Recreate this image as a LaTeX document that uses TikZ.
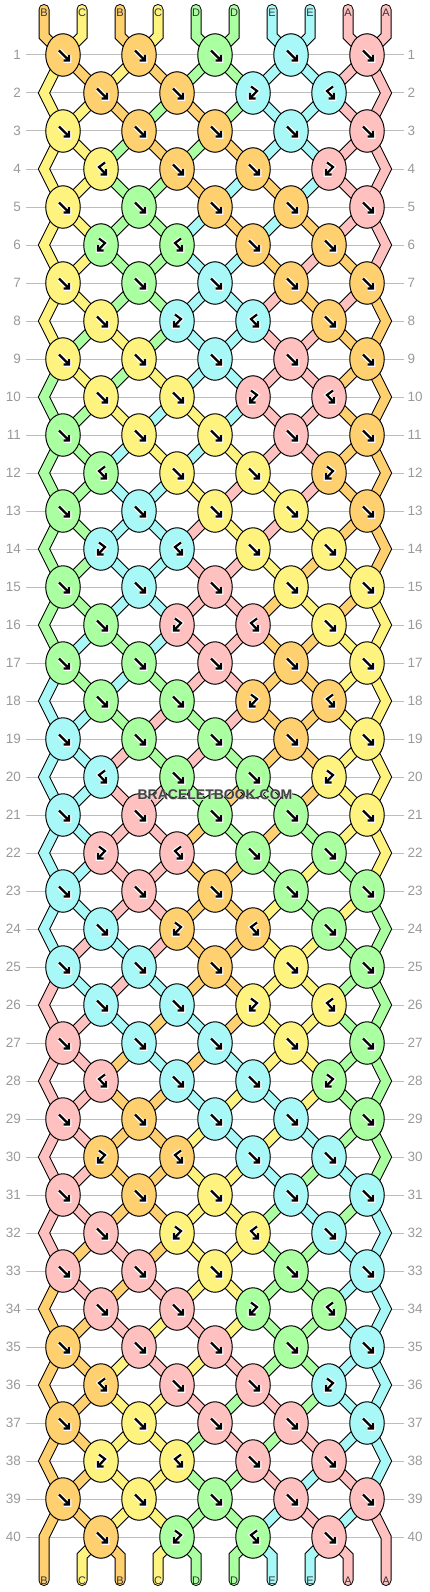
\documentclass[tikz,border=0pt]{standalone}
\usepackage{fontspec}
\setmainfont{Liberation Sans}
\usetikzlibrary{shapes.geometric}
\definecolor{colA}{HTML}{FFC0C0}
\definecolor{colB}{HTML}{FFD070}
\definecolor{colC}{HTML}{FFF380}
\definecolor{colD}{HTML}{AAFFA0}
\definecolor{colE}{HTML}{A8F8F8}
\definecolor{rowgray}{HTML}{BDBDBD}
\definecolor{labgray}{HTML}{999999}
\definecolor{markgray}{HTML}{444444}
\newcommand\bbSet[2]{\expandafter\xdef\csname #1\endcsname{#2}}
\newcommand\bbGet[1]{\csname #1\endcsname}
\newcommand\bbAppend[3]{\expandafter\xdef\csname bbpath#1\endcsname{\csname bbpath#1\endcsname-- (#2,#3)}}
\def\bbF{f}\def\bbFB{fb}
\newcommand\bbKnot[7]{%
  \edef\bbL{\bbGet{bbpos#3}}%
  \edef\bbR{\bbGet{bbpos#4}}%
  \bbAppend{\bbL}{#5}{#6}%
  \bbAppend{\bbR}{#5}{#6}%
  \edef\bbtmp{#7}%
  \bbSet{bbkt#1-#2}{\bbtmp}%
  \ifx\bbtmp\bbF
    \bbSet{bbkc#1-#2}{\bbGet{bbcol\bbL}}%
    \bbSet{bbpos#3}{\bbR}%
    \bbSet{bbpos#4}{\bbL}%
  \else\ifx\bbtmp\bbFB
    \bbSet{bbkc#1-#2}{\bbGet{bbcol\bbL}}%
  \else
    \bbSet{bbkc#1-#2}{\bbGet{bbcol\bbR}}%
  \fi\fi}
\newcommand\bbGlyph[1]{%
  \edef\bbtmp{#1}%
  \ifx\bbtmp\bbF
    \draw[glyph] (-4,-4.5) -- (6,5.5) (6,0) -- (6,5.5) -- (0.5,5.5);
  \else\ifx\bbtmp\bbFB
    \draw[glyph] (4,-6.5) -- (-2,-2) -- (5,5.5) (5,0) -- (5,5.5) -- (-0.5,5.5);
  \else
    \draw[glyph] (-2,-6.5) -- (4,-2) -- (-3,5.5) (-3,0) -- (-3,5.5) -- (2.5,5.5);
  \fi\fi}
\begin{document}
\begin{tikzpicture}[x=1pt,y=-1pt,
  strout/.style={line width=11pt, draw=black, line cap=round, line join=miter},
  strin/.style={line width=9pt, line cap=round, line join=miter},
  knot/.style={ellipse, draw=black, line width=1pt, minimum width=34.5pt, minimum height=42.5pt, inner sep=0pt},
  glyph/.style={draw=black, line width=2.2pt, line join=miter, preaction={draw=white, line width=4.6pt, line join=miter}},
  rowline/.style={draw=rowgray, line width=1pt},
  rowlab/.style={text=labgray, inner sep=0pt, font=\fontsize{13.5}{14}\selectfont},
  endlab/.style={text=black!80, inner sep=0pt, font=\fontsize{11}{11}\selectfont},
  wmark/.style={text=markgray, font=\bfseries\fontsize{14}{14}\selectfont}]
\useasboundingbox (0,0) rectangle (430,1592);
% ---- simulation of the strings ----
\foreach \j/\lettr in {1/B,2/C,3/B,4/C,5/D,6/D,7/E,8/E,9/A,10/A}{%
  \pgfmathtruncatemacro\xx{44+38*(\j-1)}%
  \bbSet{bbpos\j}{\j}%
  \bbSet{bbcol\j}{col\lettr}%
  \bbSet{bbtxt\j}{\lettr}%
  \bbSet{bbpath\j}{(\xx,9.5) -- (\xx,36) }%
}
\foreach \rr in {1,...,40}{%
  \pgfmathtruncatemacro\yy{55+38*(\rr-1)}%
  \ifodd\rr
    \foreach \kk in {1,...,5}{%
      \pgfmathtruncatemacro\jl{2*\kk-1}%
      \pgfmathtruncatemacro\jr{2*\kk}%
      \pgfmathtruncatemacro\xx{63+76*(\kk-1)}%
      \bbKnot{\rr}{\kk}{\jl}{\jr}{\xx}{\yy}{f}}%
  \else
    \bbAppend{\bbGet{bbpos1}}{44}{\yy}%
    \bbAppend{\bbGet{bbpos10}}{386}{\yy}%
    \pgfmathtruncatemacro\pp{mod(\rr/2-1,4)}%
    \pgfmathtruncatemacro\kbf{mod(\pp+2,4)+1}%
    \pgfmathtruncatemacro\kfb{mod(\pp+3,4)+1}%
    \foreach \kk in {1,...,4}{%
      \pgfmathtruncatemacro\jl{2*\kk}%
      \pgfmathtruncatemacro\jr{2*\kk+1}%
      \pgfmathtruncatemacro\xx{101+76*(\kk-1)}%
      \ifnum\kk=\kbf\relax \def\ktype{bf}\else\ifnum\kk=\kfb\relax \def\ktype{fb}\else\def\ktype{f}\fi\fi
      \bbKnot{\rr}{\kk}{\jl}{\jr}{\xx}{\yy}{\ktype}}%
  \fi}
\foreach \j in {1,...,10}{%
  \pgfmathtruncatemacro\xx{44+38*(\j-1)}%
  \bbSet{bbbot\j}{\bbGet{bbpos\j}}%
  \ifnum\j=1\relax \bbAppend{\bbGet{bbpos\j}}{\xx}{1580.5}%
  \else\ifnum\j=10\relax \bbAppend{\bbGet{bbpos\j}}{\xx}{1580.5}%
  \else \bbAppend{\bbGet{bbpos\j}}{\xx}{1556}\bbAppend{\bbGet{bbpos\j}}{\xx}{1580.5}\fi\fi}
% ---- row lines and labels ----
\foreach \rr in {1,...,40}{%
  \pgfmathtruncatemacro\yy{55+38*(\rr-1)}%
  \coordinate (la\rr) at (26,\yy);
  \coordinate (lb\rr) at (404,\yy);
  \draw[rowline] (la\rr) -- (lb\rr);
  \node[rowlab, anchor=east] (ln\rr) at (21,\yy) {\rr};
  \node[rowlab, anchor=west] (rn\rr) at (407.5,\yy) {\rr};
}
% ---- strings ----
\foreach \j in {1,...,10}{%
  \edef\bbdo{\noexpand\draw[strout] \bbGet{bbpath\j};
    \noexpand\draw[strin, draw=\bbGet{bbcol\j}] \bbGet{bbpath\j};}%
  \bbdo}
% ---- end letters ----
\foreach \j in {1,...,10}{%
  \pgfmathtruncatemacro\xx{44+38*(\j-1)}%
  \node[endlab] (top\j) at (\xx,12.5) {\bbGet{bbtxt\j}};
  \edef\bbid{\bbGet{bbbot\j}}%
  \node[endlab] (bot\j) at (\xx,1580.8) {\bbGet{bbtxt\bbid}};
}
% ---- knots ----
\foreach \rr in {1,...,40}{%
  \pgfmathtruncatemacro\yy{55+38*(\rr-1)}%
  \ifodd\rr \def\nk{5}\def\xo{63}\else\def\nk{4}\def\xo{101}\fi
  \foreach \kk in {1,...,\nk}{%
    \pgfmathtruncatemacro\xx{\xo+76*(\kk-1)}%
    \edef\kc{\bbGet{bbkc\rr-\kk}}%
    \edef\kt{\bbGet{bbkt\rr-\kk}}%
    \node[knot, fill=\kc] (k\rr-\kk) at (\xx,\yy) {};
    \begin{scope}[shift={(\xx,\yy)}]\bbGlyph{\kt}\end{scope}
  }}
\node[wmark, text=white!85!black] (wmh) at (215.8,795.8) {BRACELETBOOK.COM};
\node[wmark] (wm) at (215,795) {BRACELETBOOK.COM};
\end{tikzpicture}
\end{document}
